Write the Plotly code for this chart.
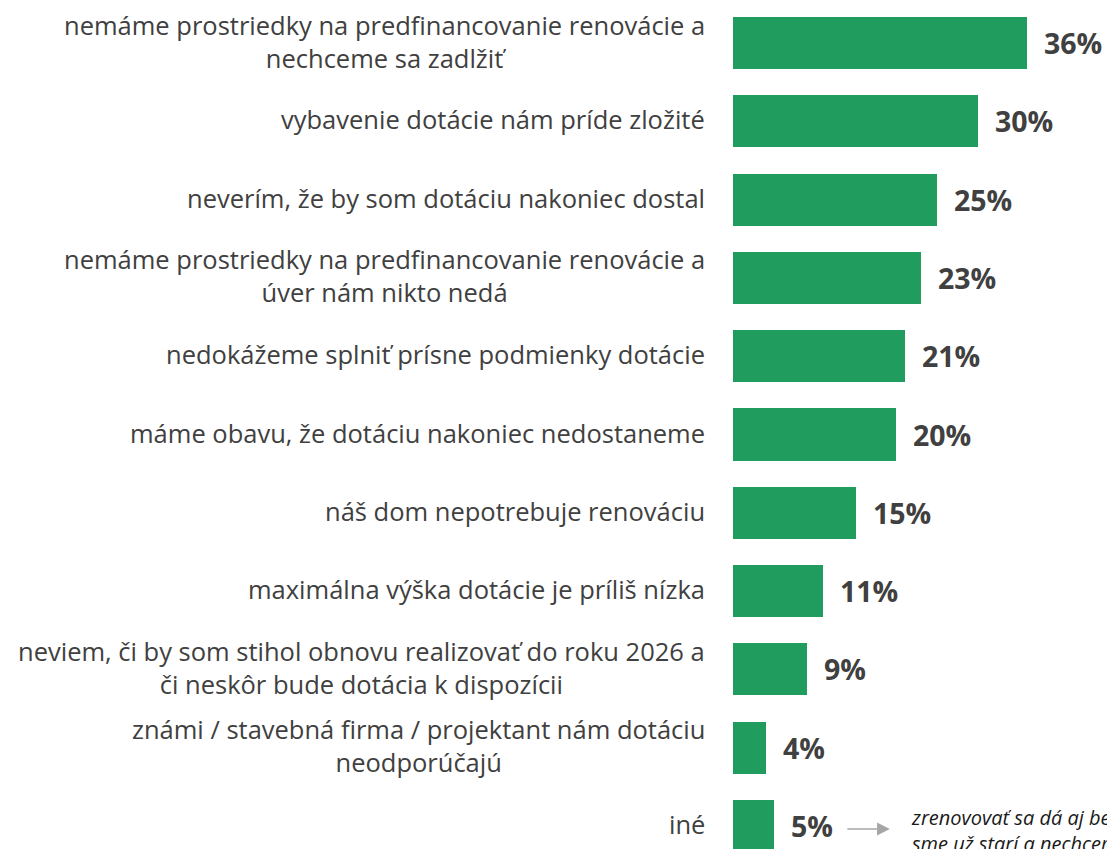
import plotly.graph_objects as go

categories = [
    "nemáme prostriedky na predfinancovanie renovácie a<br>nechceme sa zadlžiť",
    "vybavenie dotácie nám príde zložité",
    "neverím, že by som dotáciu nakoniec dostal",
    "nemáme prostriedky na predfinancovanie renovácie a<br>úver nám nikto nedá",
    "nedokážeme splniť prísne podmienky dotácie",
    "máme obavu, že dotáciu nakoniec nedostaneme",
    "náš dom nepotrebuje renováciu",
    "maximálna výška dotácie je príliš nízka",
    "neviem, či by som stihol obnovu realizovať do roku 2026 a<br>či neskôr bude dotácia k dispozícii",
    "známi / stavebná firma / projektant nám dotáciu<br>neodporúčajú",
    "iné",
]
values = [36, 30, 25, 23, 21, 20, 15, 11, 9, 4, 5]
value_labels = [f"{v}%" for v in values]
note_text = "zrenovovať sa dá aj bez dotácie,<br>sme už starí a nechceme sa zadlžiť"

BAR_COLOR = "#1f9c5e"
TEXT_COLOR = "#404040"
LABEL_FONT = "Open Sans"

y_pos = list(range(len(categories)))

fig = go.Figure()
fig.add_trace(go.Bar(
    x=values,
    y=y_pos,
    orientation="h",
    marker=dict(color=BAR_COLOR, line=dict(width=0)),
    width=0.665,
    hoverinfo="skip",
))

annotations = []
for yi, cat, lab, v in zip(y_pos, categories, value_labels, values):
    annotations.append(dict(
        x=0, y=yi, xref="x", yref="y", text=cat, showarrow=False,
        xanchor="right", yanchor="middle", align="center", xshift=-26, yshift=2,
        font=dict(family=LABEL_FONT, size=25.5, color=TEXT_COLOR),
    ))
    annotations.append(dict(
        x=v, y=yi, xref="x", yref="y", text=f"<b>{lab}</b>", showarrow=False,
        xanchor="left", yanchor="middle", xshift=15,
        font=dict(family="Open Sans", size=28.5, color=TEXT_COLOR),
    ))

# arrow from "iné" value label to the note
last = len(values) - 1
annotations.append(dict(
    x=values[last], y=y_pos[last], xref="x", yref="y", text="",
    showarrow=True, arrowhead=2, arrowsize=1.6, arrowwidth=1.6,
    arrowcolor="#a6a6a6", ax=-44, ay=0, xshift=116, yshift=-3,
))
annotations.append(dict(
    x=values[last], y=y_pos[last], xref="x", yref="y", text=f"<i>{note_text}</i>",
    showarrow=False, xanchor="left", yanchor="middle", align="left", xshift=135, yshift=-4,
    font=dict(family="Open Sans", size=20, color="#1a1a1a"),
))

px_per = 8.17
x0_px = 733
y0_px = 43
step = 78.3
fig.update_layout(
    width=1107, height=849,
    margin=dict(l=0, r=0, t=0, b=0),
    plot_bgcolor="white", paper_bgcolor="white",
    showlegend=False,
    xaxis=dict(range=[-x0_px / px_per, (1107 - x0_px) / px_per], visible=False, fixedrange=True),
    yaxis=dict(range=[(849 - y0_px) / step, -y0_px / step], visible=False, fixedrange=True),
    annotations=annotations,
    bargap=0,
)

fig.write_html(
    "out.html",
    config={"displayModeBar": False, "staticPlot": True},
    post_script="document.body.style.margin='0';document.body.style.overflow='hidden';",
)
